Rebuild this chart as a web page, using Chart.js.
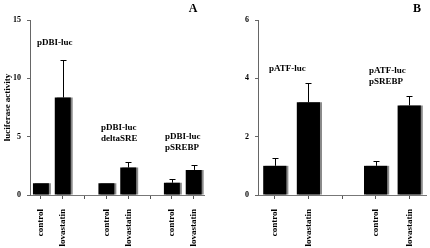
<!DOCTYPE html>
<html>
<head>
<meta charset="utf-8">
<script src="https://cdn.jsdelivr.net/npm/chart.js@4"></script>
<style>
	html, body { margin: 0; padding: 0; background: #fff; }
	#wrap { position: relative; width: 430px; height: 248px; overflow: hidden; }
	#chartA { position: absolute; left: 0; top: 0; }
	#chartB { position: absolute; left: 215px; top: 0; }
</style>
</head>
<body>
<div id="wrap">
	<canvas id="chartA" width="215" height="248"></canvas>
	<canvas id="chartB" width="215" height="248"></canvas>
</div>
<script>
// 패널 A 데이터
const labelsA = ['control', 'lovastatin', '', 'control', 'lovastatin', '', 'control', 'lovastatin'];
const valuesA = [1.0, 8.35, null, 1.0, 2.35, null, 1.05, 2.15];
const errorsA = [0, 3.2, null, 0, 0.45, null, 0.3, 0.4];
const ticksA = [0, 5, 10, 15];

// 패널 B 데이터
const labelsB = ['control', 'lovastatin', '', 'control', 'lovastatin'];
const valuesB = [1.0, 3.18, null, 1.0, 3.07];
const errorsB = [0.27, 0.65, null, 0.18, 0.31];
const ticksB = [0, 2, 4, 6];

const FONT = 'Liberation Serif, DejaVu Serif, serif';

// 막대 오른쪽 회색 그림자
const shadowPlugin = {
	id: 'barShadow',
	beforeDatasetsDraw(chart) {
		const ctx = chart.ctx;
		ctx.save();
		ctx.shadowColor = '#8a8a8a';
		ctx.shadowOffsetX = 2;
		ctx.shadowOffsetY = 0;
		ctx.shadowBlur = 0;
	},
	afterDatasetsDraw(chart) {
		chart.ctx.restore();
	}
};

// 에러바 (위쪽만)
const errorBarPlugin = {
	id: 'errorBars',
	afterDatasetsDraw(chart, args, opts) {
		const ctx = chart.ctx;
		const meta = chart.getDatasetMeta(0);
		const yScale = chart.scales.y;
		const vals = chart.data.datasets[0].data;
		ctx.save();
		ctx.strokeStyle = '#000';
		ctx.lineWidth = 1;
		meta.data.forEach((bar, i) => {
			const v = vals[i];
			const e = opts.errors[i];
			if (v == null || !e) return;
			const x = Math.round(bar.x) + 0.5;
			const yTop = Math.round(yScale.getPixelForValue(v + e)) + 0.5;
			const yBar = yScale.getPixelForValue(v);
			ctx.beginPath();
			ctx.moveTo(x, yBar);
			ctx.lineTo(x, yTop);
			ctx.moveTo(x - opts.cap, yTop);
			ctx.lineTo(x + opts.cap, yTop);
			ctx.stroke();
		});
		ctx.restore();
	}
};

// 패널 안의 글자들
const notePlugin = {
	id: 'notes',
	afterDraw(chart, args, opts) {
		const ctx = chart.ctx;
		ctx.save();
		ctx.fillStyle = '#000';
		ctx.textBaseline = 'middle';
		opts.items.forEach(t => {
			ctx.font = t.font || ('bold 9px ' + FONT);
			ctx.textAlign = t.align || 'left';
			ctx.fillText(t.text, t.x, t.y);
		});
		ctx.restore();
	}
};

function makeChart(id, labels, values, errors, ticks, cfg) {
	return new Chart(document.getElementById(id), {
		type: 'bar',
		data: {
			labels: labels,
			datasets: [{
				data: values,
				backgroundColor: '#000',
				borderWidth: 0,
				categoryPercentage: 1,
				barPercentage: cfg.barPct
			}]
		},
		options: {
			responsive: false,
			devicePixelRatio: 1,
			animation: false,
			layout: { padding: { top: 20, right: cfg.padRight, bottom: 0, left: 0 } },
			plugins: {
				legend: { display: false },
				tooltip: { enabled: false },
				errorBars: { errors: errors, cap: cfg.cap },
				notes: { items: cfg.notes }
			},
			scales: {
				x: {
					offset: true,
					border: { color: '#777', width: 1 },
					grid: { offset: false, drawOnChartArea: false, drawTicks: true, tickLength: 4, color: '#555' },
					ticks: {
						autoSkip: false,
						maxRotation: 90,
						minRotation: 90,
						padding: 10,
						color: '#000',
						font: { family: FONT, size: 9, weight: 'bold' }
					},
					afterFit: s => { s.height = 53; }
				},
				y: {
					min: 0,
					max: ticks[ticks.length - 1],
					afterBuildTicks: s => { s.ticks = ticks.map(v => ({ value: v })); },
					border: { color: '#666', width: 1 },
					grid: { drawOnChartArea: false, drawTicks: true, tickLength: 3, color: '#666' },
					ticks: {
						padding: 6,
						color: '#000',
						font: { family: FONT, size: 8, weight: 'bold' }
					},
					title: {
						display: cfg.yTitle != null,
						text: cfg.yTitle || '',
						color: '#000',
						font: { family: FONT, size: 9, weight: 'bold' },
						padding: { top: 2, bottom: 0 }
					},
					afterFit: s => { s.width = cfg.yWidth; }
				}
			}
		},
		plugins: [shadowPlugin, errorBarPlugin, notePlugin]
	});
}

makeChart('chartA', labelsA, valuesA, errorsA, ticksA, {
	barPct: 0.73,
	cap: 3,
	padRight: 8,
	yWidth: 30,
	yTitle: 'luciferase activity',
	notes: [
		{ text: 'A', x: 193, y: 9, align: 'center', font: 'bold 12px ' + FONT },
		{ text: 'pDBI-luc', x: 37, y: 43 },
		{ text: 'pDBI-luc', x: 101, y: 128 },
		{ text: 'deltaSRE', x: 101, y: 139 },
		{ text: 'pDBI-luc', x: 165, y: 137 },
		{ text: 'pSREBP', x: 165, y: 148 }
	]
});

makeChart('chartB', labelsB, valuesB, errorsB, ticksB, {
	barPct: 0.69,
	cap: 3,
	padRight: 0,
	yWidth: 43,
	yTitle: null,
	notes: [
		{ text: 'B', x: 202, y: 9, align: 'center', font: 'bold 12px ' + FONT },
		{ text: 'pATF-luc', x: 54, y: 69 },
		{ text: 'pATF-luc', x: 154, y: 71 },
		{ text: 'pSREBP', x: 154, y: 82 }
	]
});
</script>
</body>
</html>
